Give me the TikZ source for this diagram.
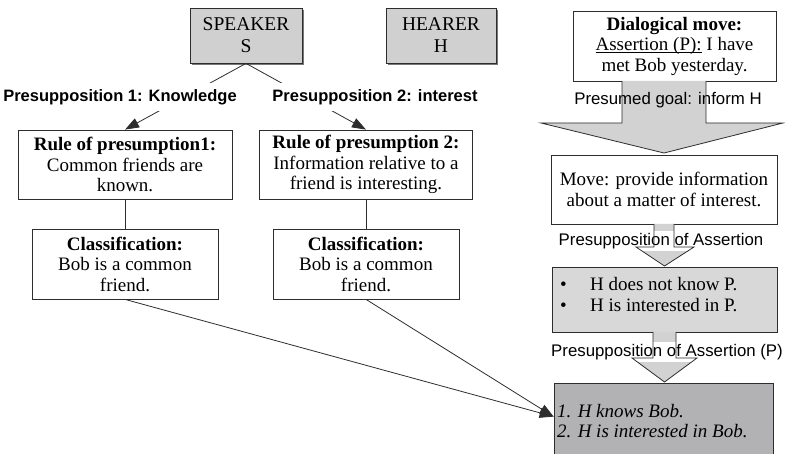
\documentclass[tikz,border=0pt]{standalone}
\usepackage{fontspec}
\setmainfont{Liberation Serif}
\newfontfamily\arialfont{Liberation Sans}
\usetikzlibrary{arrows.meta,calc}
\definecolor{linec}{RGB}{45,45,45}
\definecolor{agentgray}{RGB}{208,208,208}
\definecolor{arrowgray}{RGB}{210,210,210}
\definecolor{bulletgray}{RGB}{216,216,216}
\definecolor{finalgray}{RGB}{178,178,180}
\definecolor{shadowgray}{RGB}{120,120,120}
\newcommand\myul[1]{\setbox0\hbox{#1}\rlap{\rule[-2.2pt]{\wd0}{0.6pt}}\box0\relax}
\tikzset{
  box/.style={draw=linec, line width=0.8pt, fill=white, inner sep=0pt, align=center},
  agentbox/.style={box, fill=agentgray, font=\fontsize{19.5}{22}\selectfont},
  lab/.style={font=\arialfont\fontsize{16.8}{18}\selectfont, inner xsep=1.5pt, inner ysep=4pt},
  blab/.style={lab, font=\arialfont\bfseries\fontsize{16.5}{18}\selectfont, fill=white, inner ysep=6pt},
  conn/.style={draw=linec, line width=0.8pt},
  arr/.style={conn, -{Triangle[length=14pt,width=10pt]}},
  blockfill/.style={fill=arrowgray},
  blockline/.style={draw=linec, line width=0.8pt, line join=miter},
}
\begin{document}
\begin{tikzpicture}[x=1pt,y=-1pt, font=\fontsize{19}{20.5}\selectfont]
\useasboundingbox (0,0) rectangle (785,454);
\clip (0,0) rectangle (785,454);

% agents
\fill[shadowgray] (192,10) rectangle (304,65);
\node[agentbox, minimum width=112pt, minimum height=55pt] (spk) at (246,35.5) {SPEAKER\\S};
\fill[shadowgray] (388,10) rectangle (498,65);
\node[agentbox, minimum width=110pt, minimum height=55pt] (hr) at (441,35.5) {HEARER\\H};

% left boxes
\node[box, minimum width=214pt, minimum height=69pt] (r1) at (125,164.5) {\textbf{Rule of presumption1:}\\Common friends are\\known.};
\node[box, minimum width=213pt, minimum height=69pt] (r2) at (366,164.5) {\textbf{Rule of presumption 2:}\\Information relative to a\\friend is interesting.};
\node[box, minimum width=186pt, minimum height=70pt] (c1) at (125,264) {\textbf{Classification:}\\Bob is a common\\friend.};
\node[box, minimum width=186pt, minimum height=70pt] (c2) at (366,264) {\textbf{Classification:}\\Bob is a common\\friend.};

% right boxes
\node[box, minimum width=203pt, minimum height=70pt] (dm) at (674.5,46) {\textbf{Dialogical move:}\\\myul{Assertion (P):} I have\\met Bob yesterday.};
\node[box, minimum width=226pt, minimum height=69pt] (mv) at (664,189.5) {Move: provide information\\about a matter of interest.};
\node[box, fill=bulletgray, minimum width=225pt, minimum height=65pt] (bl) at (664.5,299.5) {};
\node[anchor=west, align=left, inner sep=0pt] (bltext) at (560,294.5) {\makebox[30pt][l]{\textbullet}H does not know P.\\\makebox[30pt][l]{\textbullet}H is interested in P.};
\node[box, fill=finalgray, minimum width=219pt, minimum height=76pt] (fin) at (663.5,421) {};
\node[anchor=west, align=left, inner sep=0pt] (fintext) at (557,421) {\itshape 1. H knows Bob.\\\itshape 2. H is interested in Bob.};

% left connectors
\draw[arr] (spk.south) -- (r1.north);
\draw[arr] (spk.south) -- (r2.north);
\node[blab] (p1) at (120,97) {Presupposition 1: Knowledge};
\node[blab] (p2) at (375,97) {Presupposition 2: interest};
\draw[conn] (r1.south) -- (c1.north);
\draw[conn] (r2.south) -- (c2.north);
\coordinate (tip) at ([yshift=-34pt]fin.north west);
\draw[arr] (c1.south) -- (tip);
\draw[arr] (c2.south) -- (tip);

% block arrow 1
\path[blockfill] (622,81) -- (706,81) -- (706,123) -- (783,123) -- (664,153) -- (541,123) -- (622,123) -- cycle;
\node[lab] (pg) at (668,100) {Presumed goal: inform H};
\draw[blockline] (622,81) -- (622,123) -- (541,123) -- (664,153) -- (783,123) -- (706,123) -- (706,81);

% block arrow 2
\path[blockfill] (654,224) -- (674,224) -- (674,247) -- (694,247) -- (664.5,266) -- (636,247) -- (654,247) -- cycle;
\node[lab, fill=white, inner ysep=2pt] (pa1) at (661,241) {Presupposition of Assertion};
\draw[blockline] (654,224) -- (654,247) -- (636,247) -- (664.5,266) -- (694,247) -- (674,247) -- (674,224);

% block arrow 3
\path[blockfill] (653,332) -- (676,332) -- (676,358) -- (697,358) -- (664.5,382) -- (632,358) -- (653,358) -- cycle;
\node[lab, fill=white, inner ysep=2pt] (pa2) at (667,352) {Presupposition of Assertion (P)};
\draw[blockline] (653,332) -- (653,358) -- (632,358) -- (664.5,382) -- (697,358) -- (676,358) -- (676,332);
\end{tikzpicture}
\end{document}
